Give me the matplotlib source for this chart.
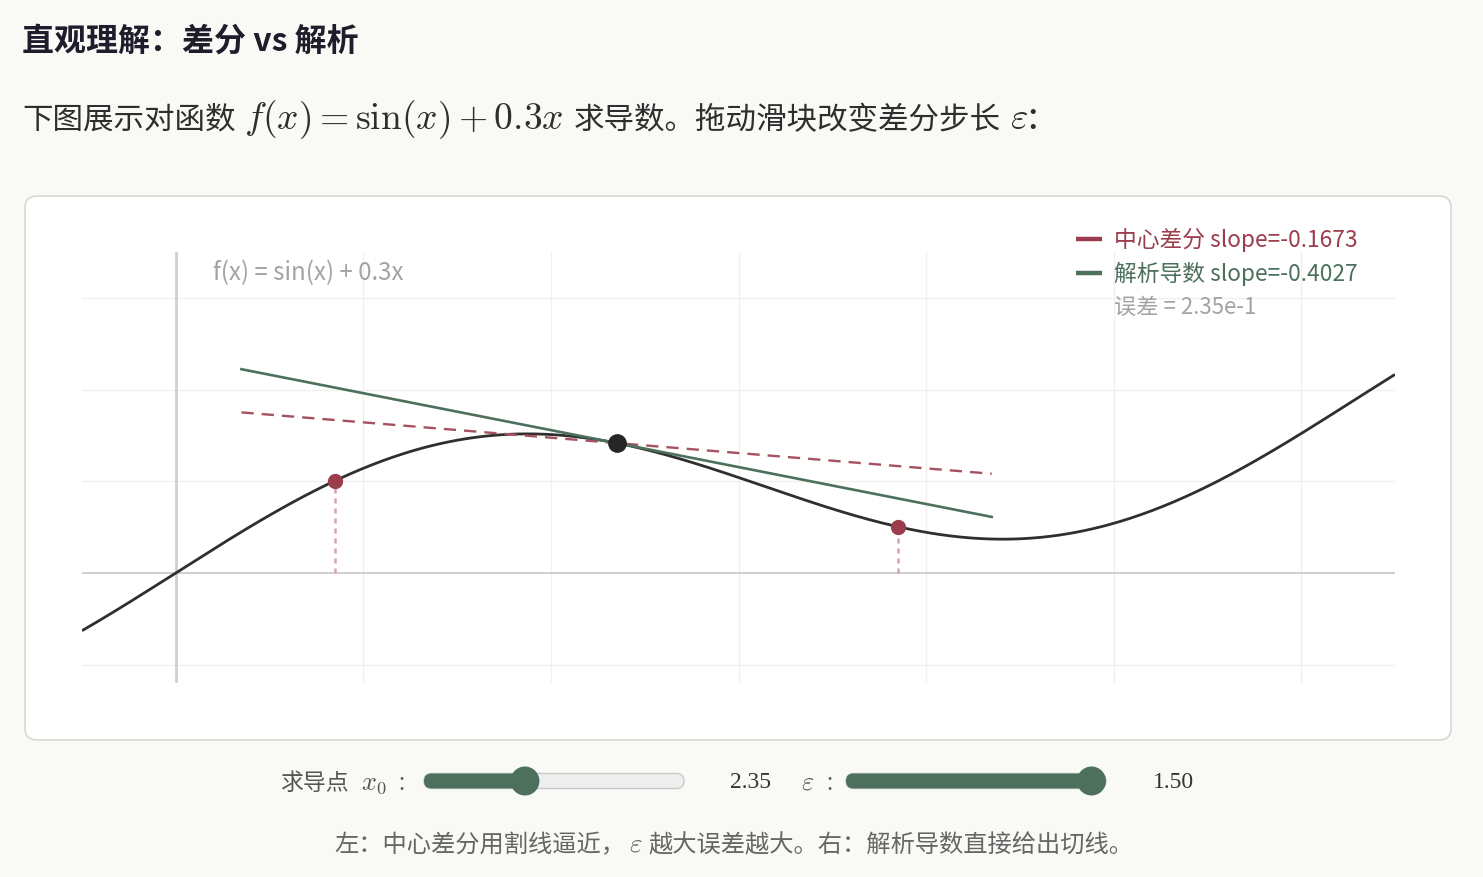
import numpy as np
import matplotlib
matplotlib.use("Agg")
import matplotlib.pyplot as plt
from matplotlib.patches import FancyBboxPatch, Circle
from matplotlib.lines import Line2D

plt.rcParams["font.family"] = ["Noto Sans CJK SC", "DejaVu Sans"]
plt.rcParams["mathtext.fontset"] = "cm"

W, H, DPI = 1483, 877, 100

# ---- chart values ----
x_range = [-0.5, 6.5]
y_range = [-1.2, 3.5]
x_grid = [0, 1, 2, 3, 4, 5, 6]
y_grid = [-1, 1, 2, 3]
x0 = 2.35
eps = 1.50
slope_central = -0.1673
slope_analytic = -0.4027
error_label = "2.35e-1"
tangent_half_span = 2.0
x0_slider_range = [0.0, 6.28]
eps_slider_range = [0.01, 1.50]

# ---- colours ----
BG = "#f9f9f6"
INK = "#2f2f2f"
RED = "#9b3d4c"
RED_DASH = "#a6515f"
RED_LIGHT = "#d8a2ac"
GREEN = "#4c705c"
GRID = "#f1f0ed"
AXIS = "#cfcfcf"


def f(x):
    return np.sin(x) + 0.3 * x


fig = plt.figure(figsize=(W / DPI, H / DPI), dpi=DPI, facecolor=BG)
renderer = fig.canvas.get_renderer()
inch = fig.dpi_scale_trans


def fx(px):
    return px / W


def fy(py):
    return 1 - py / H


def place_run(x, y, parts, center=False, **common):
    """Lay out consecutive text pieces along one baseline (pixel coordinates)."""
    texts = []
    widths = []
    for s, kw in parts:
        opts = dict(common)
        opts.update(kw)
        gap = opts.pop("gap", 0)
        t = fig.text(0, fy(y), s, va="baseline", ha="left", **opts)
        texts.append((t, gap))
        widths.append(t.get_window_extent(renderer).width + gap)
    total = sum(widths)
    cur = x - total / 2 if center else x
    for (t, gap), w in zip(texts, widths):
        t.set_x(fx(cur + gap))
        cur += w
    return cur


# ---- heading and intro line ----
fig.text(fx(22), fy(51), "直观理解：差分 vs 解析", fontsize=23, fontweight="bold",
         color="#1d1d2b", va="baseline", ha="left")

place_run(22, 129, [
    ("下图展示对函数", dict(fontsize=22)),
    (r"$f(x) = \sin(x) + 0.3x$", dict(fontsize=27, gap=9)),
    ("求导数。拖动滑块改变差分步长", dict(fontsize=22, gap=10)),
    (r"$\varepsilon$:", dict(fontsize=27, gap=9)),
], color="#2e2e2e")

# ---- card ----
card = FancyBboxPatch((25 / DPI, (H - 740) / DPI), (1451 - 25) / DPI, (740 - 196) / DPI,
                      boxstyle="round,pad=0,rounding_size=0.12", transform=inch,
                      facecolor="white", edgecolor="#d3d1c9", linewidth=1.0, zorder=-5)
fig.patches.append(card)

# ---- plot ----
ax_l, ax_r, ax_t, ax_b = 82, 1395, 252, 683
ax = fig.add_axes([fx(ax_l), fy(ax_b), (ax_r - ax_l) / W, (ax_b - ax_t) / H])
ax.set_zorder(2)
ax.set_xlim(*x_range)
ax.set_ylim(*y_range)
ax.set_facecolor("none")
for sp in ax.spines.values():
    sp.set_visible(False)
ax.set_xticks([])
ax.set_yticks([])

for gx in x_grid[1:]:
    ax.axvline(gx, color=GRID, lw=1.0, zorder=0)
for gy in y_grid:
    ax.axhline(gy, color=GRID, lw=1.0, zorder=0)
ax.axhline(0, color=AXIS, lw=1.4, zorder=1)
ax.axvline(0, color=AXIS, lw=2.0, zorder=1)

xs = np.linspace(x_range[0], x_range[1], 600)
ax.plot(xs, f(xs), color=INK, lw=2.0, zorder=3, solid_capstyle="butt")

y0 = f(x0)
tx = np.array([x0 - tangent_half_span, x0 + tangent_half_span])
ax.plot(tx, y0 + slope_central * (tx - x0), color=RED_DASH, lw=1.7,
        dashes=(5.2, 3.4), zorder=4)
ax.plot(tx, y0 + slope_analytic * (tx - x0), color=GREEN, lw=1.9, zorder=5)

for xp in (x0 - eps, x0 + eps):
    ax.plot([xp, xp], [0, f(xp)], color=RED_LIGHT, lw=1.8, dashes=(2.0, 2.0), zorder=2)
    ax.plot(xp, f(xp), "o", color=RED, markersize=11, markeredgewidth=0, zorder=6)
ax.plot(x0, y0, "o", color="#262626", markersize=13.5, markeredgewidth=0, zorder=7)

fig.text(fx(213), fy(280), "f(x) = sin(x) + 0.3x", fontsize=17.3, color="#a3a3a3",
         va="baseline", ha="left", zorder=5)

# legend
legend_rows = [
    (f"中心差分 slope={slope_central:.4f}", RED, 239),
    (f"解析导数 slope={slope_analytic:.4f}", GREEN, 273),
]
for label, col, py in legend_rows:
    fig.add_artist(Line2D([fx(1076), fx(1102)], [fy(py), fy(py)], color=col, lw=3.2,
                          solid_capstyle="butt", zorder=5))
    fig.text(fx(1114), fy(py + 8), label, fontsize=16.4, color=col, va="baseline",
             ha="left", zorder=5)
fig.text(fx(1114), fy(314), f"误差 = {error_label}", fontsize=16, color="#a3a3a3",
         va="baseline", ha="left", zorder=5)


# ---- sliders ----
def slider(x_start, x_end, yc, value, vrange):
    th = 15 / DPI
    r = 14.5
    track = FancyBboxPatch((x_start / DPI, (H - yc) / DPI - th / 2), (x_end - x_start) / DPI, th,
                           boxstyle=f"round,pad=0,rounding_size={th / 2}", transform=inch,
                           facecolor="#efefef", edgecolor="#c9c9c9", linewidth=1.0)
    fig.patches.append(track)
    frac = (value - vrange[0]) / (vrange[1] - vrange[0])
    cx = x_start + r + frac * (x_end - x_start - 2 * r)
    fill = FancyBboxPatch((x_start / DPI, (H - yc) / DPI - th / 2), (cx - x_start) / DPI, th,
                          boxstyle=f"round,pad=0,rounding_size={th / 2}", transform=inch,
                          facecolor=GREEN, edgecolor="none")
    fig.patches.append(fill)
    fig.patches.append(Circle((cx / DPI, (H - yc) / DPI), r / DPI, transform=inch,
                              facecolor=GREEN, edgecolor="none"))


slider(424, 684, 781, x0, x0_slider_range)
slider(846, 1106, 781, eps, eps_slider_range)

place_run(280, 790, [
    ("求导点", dict(fontsize=16.5)),
    (r"$x_0$", dict(fontsize=19, gap=12)),
    (":", dict(fontsize=16, gap=12)),
], color="#555555")
fig.text(fx(730), fy(788), f"{x0:.2f}", fontsize=17, color="#333333",
         family="Liberation Serif", va="baseline", ha="left")
place_run(801, 790, [
    (r"$\varepsilon$", dict(fontsize=19)),
    (":", dict(fontsize=16, gap=12)),
], color="#555555")
fig.text(fx(1153), fy(788), f"{eps:.2f}", fontsize=17, color="#333333",
         family="Liberation Serif", va="baseline", ha="left")

# ---- caption ----
place_run(734, 852, [
    ("左：中心差分用割线逼近，", dict(fontsize=17.5)),
    (r"$\varepsilon$", dict(fontsize=19.5, gap=3)),
    ("越大误差越大。右：解析导数直接给出切线。", dict(fontsize=17.5, gap=6)),
], center=True, color="#666666")

fig.savefig("out.png", dpi=DPI, facecolor=BG)
